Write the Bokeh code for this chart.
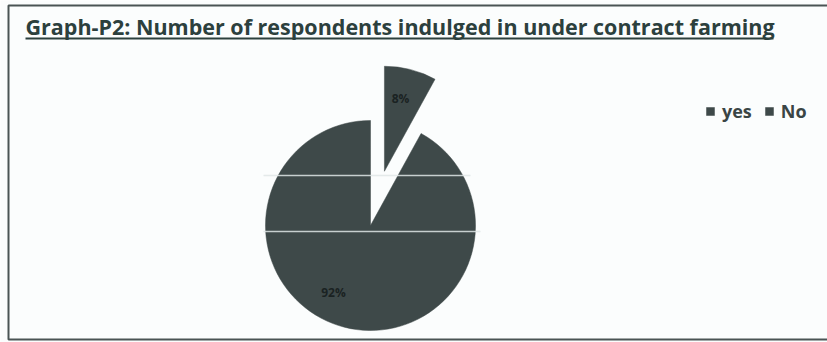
import math
from bokeh.plotting import figure
from bokeh.models import Range1d, ColumnDataSource, Legend, LegendItem
from bokeh.core.properties import value
from bokeh.embed import file_html
from bokeh.resources import INLINE

# ---- data ----
categories = ["yes", "No"]
percentages = [8, 92]
labels = ["8%", "92%"]
title_text = "Graph-P2: Number of respondents indulged in under contract farming"

# ---- styles / layout ----
W, H = 827, 342
PIE_COLOR = "#3e4949"
explode = [56, 0]          # px offset of each slice
cx, cy_pix = 370, 225      # pie centre in page pixels
R = 105
label_pos_pix = [(400, 98), (333, 292)]

def Y(py):
    return H - py

p = figure(width=W, height=H, output_backend="svg", toolbar_location=None,
           x_range=Range1d(0, W), y_range=Range1d(0, H),
           min_border=0, border_fill_color="#fbfdfd", background_fill_color="#fbfdfd")
p.axis.visible = False
p.grid.visible = False
p.outline_line_color = None

# frame border (extends beyond right edge like the scan)
p.quad(left=[8], right=[W + 10], top=[Y(5)], bottom=[Y(339)], fill_color=None,
       line_color="#4a5454", line_width=2)

# compute wedge angles (clockwise from 12 o'clock)
total = sum(percentages)
starts, ends, xs, ys = [], [], [], []
acc = 0.0
for v, ex in zip(percentages, explode):
    a0 = math.pi / 2 - 2 * math.pi * (acc + v) / total
    a1 = math.pi / 2 - 2 * math.pi * acc / total
    mid = (a0 + a1) / 2
    starts.append(a0)
    ends.append(a1)
    xs.append(cx + ex * math.cos(mid))
    ys.append(Y(cy_pix) + ex * math.sin(mid))
    acc += v

src = ColumnDataSource(dict(x=xs, y=ys, start=starts, end=ends, cat=categories))
wr = p.wedge(x="x", y="y", radius=R, start_angle="start", end_angle="end",
             direction="anticlock", source=src, fill_color=PIE_COLOR,
             line_color=PIE_COLOR, line_width=0.5)

# scan-like light lines across the pie
p.segment(x0=[263, 263], y0=[Y(175), Y(231)], x1=[470, 480], y1=[Y(175), Y(231)],
          line_color="#dfe6e6", line_width=1.5, line_alpha=0.85)

# data labels
p.text(x=[q[0] for q in label_pos_pix], y=[Y(q[1]) for q in label_pos_pix], text=labels,
       text_font=value("Open Sans"), text_font_style="bold", text_font_size="12px",
       text_color="#1a2222", text_align="center", text_baseline="middle")

# title + underline
p.text(x=[25], y=[Y(26)], text=[title_text], text_font=value("Open Sans"),
       text_font_style="bold", text_font_size="21.5px", text_color="#2c403d",
       text_align="left", text_baseline="middle")
p.segment(x0=[25], y0=[Y(38)], x1=[773], y1=[Y(38)], line_color="#2c403d", line_width=2)

# legend
legend = Legend(items=[LegendItem(label=categories[0], renderers=[wr], index=0),
                       LegendItem(label=categories[1], renderers=[wr], index=1)],
                orientation="horizontal", location=(705, 219),
                glyph_width=10, glyph_height=10, label_text_font="Open Sans",
                label_text_font_style="bold", label_text_font_size="18px",
                label_text_color="#3a4545", spacing=12, padding=0, margin=0,
                label_standoff=7, border_line_color=None, background_fill_alpha=0)
p.add_layout(legend, "center")

open("out.html", "w").write(file_html(p, INLINE))
